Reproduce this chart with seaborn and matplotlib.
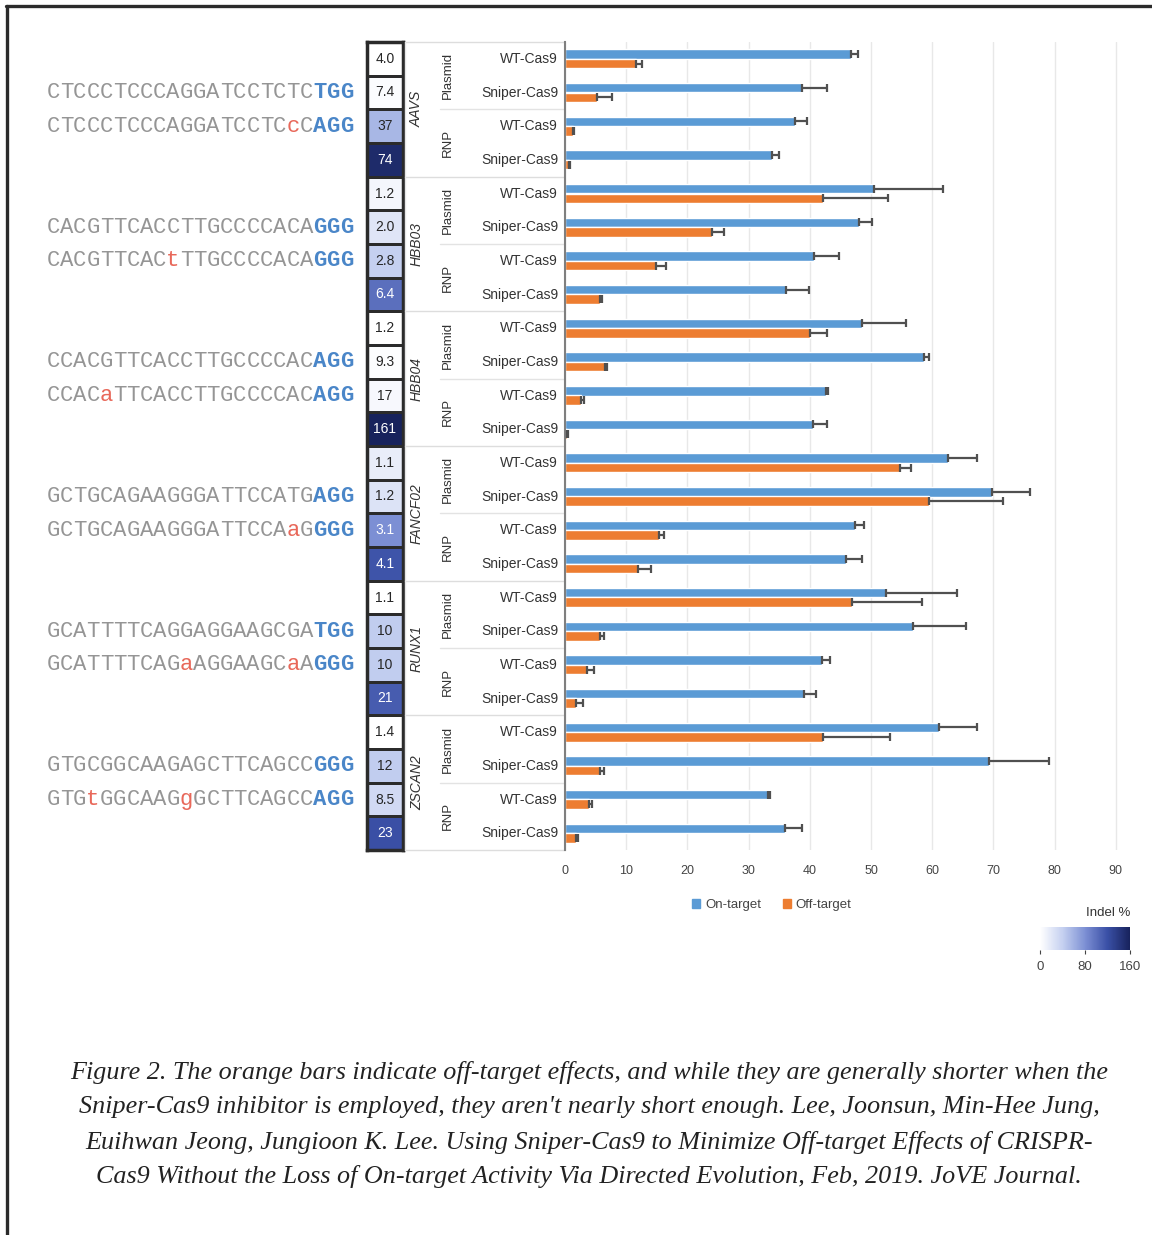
import numpy as np
import pandas as pd
import matplotlib
matplotlib.use("Agg")
import matplotlib.pyplot as plt
from matplotlib.colors import LinearSegmentedColormap
from matplotlib.lines import Line2D
from matplotlib.patches import Patch
import matplotlib.transforms as mtransforms
import seaborn as sns

W, H = 1152, 1235

genes = ["AAVS", "HBB03", "HBB04", "FANCF02", "RUNX1", "ZSCAN2"]
deliveries = ["Plasmid", "RNP"]
variants = ["WT-Cas9", "Sniper-Cas9"]

# indel % (gene > delivery > variant order)
on_target = [46.8, 38.8, 37.5, 33.9, 50.5, 48.0, 40.7, 36.1,
             48.5, 58.6, 42.6, 40.6, 62.6, 69.8, 47.4, 45.9,
             52.4, 56.8, 42.0, 39.0, 61.1, 69.3, 33.2, 35.9]
on_err = [1.1, 4.0, 2.0, 1.1, 11.3, 2.1, 4.1, 3.8,
          7.2, 0.9, 0.3, 2.2, 4.8, 6.1, 1.5, 2.7,
          11.7, 8.7, 1.3, 2.0, 6.3, 9.8, 0.3, 2.8]
off_target = [11.6, 5.3, 1.3, 0.6, 42.2, 24.0, 14.8, 5.8,
              40.0, 6.5, 2.6, 0.3, 54.7, 59.5, 15.4, 12.0,
              46.9, 5.7, 3.6, 1.8, 42.2, 5.7, 4.0, 1.8]
off_err = [0.9, 2.3, 0.2, 0.2, 10.6, 1.9, 1.7, 0.3,
           2.8, 0.3, 0.5, 0.2, 1.8, 12.1, 0.7, 2.0,
           11.5, 0.6, 1.1, 1.1, 10.9, 0.6, 0.4, 0.3]

# numbers printed in the heat column and the shade each cell shows (0-160 scale)
heat_labels = ["4.0", "7.4", "37", "74", "1.2", "2.0", "2.8", "6.4",
               "1.2", "9.3", "17", "161", "1.1", "1.2", "3.1", "4.1",
               "1.1", "10", "10", "21", "1.4", "12", "8.5", "23"]
heat_level = [0, 3, 56, 152, 8, 22, 40, 100,
              0, 2, 6, 160, 15, 24, 80, 117,
              0, 42, 42, 112, 0, 42, 32, 120]

# lowercase = mismatch, last three = PAM
seq_on = ["CTCCCTCCCAGGATCCTCTCTGG", "CACGTTCACCTTGCCCCACAGGG",
          "CCACGTTCACCTTGCCCCACAGG", "GCTGCAGAAGGGATTCCATGAGG",
          "GCATTTTCAGGAGGAAGCGATGG", "GTGCGGCAAGAGCTTCAGCCGGG"]
seq_off = ["CTCCCTCCCAGGATCCTCcCAGG", "CACGTTCACtTTGCCCCACAGGG",
           "CCACaTTCACCTTGCCCCACAGG", "GCTGCAGAAGGGATTCCAaGGGG",
           "GCATTTTCAGaAGGAAGCaAGGG", "GTGtGGCAAGgGCTTCAGCCAGG"]

caption = [
    "Figure 2. The orange bars indicate off-target effects, and while they are generally shorter when the",
    "Sniper-Cas9 inhibitor is employed, they aren't nearly short enough. Lee, Joonsun, Min-Hee Jung,",
    "Euihwan Jeong, Jungioon K. Lee. Using Sniper-Cas9 to Minimize Off-target Effects of CRISPR-",
    "Cas9 Without the Loss of On-target Activity Via Directed Evolution, Feb, 2019. JoVE Journal.",
]

BLUE = "#5b9bd5"
ORANGE = "#ed7d31"
TXT = "#333333"

sns.set_style("white")
plt.rcParams["font.family"] = ["Liberation Sans", "DejaVu Sans"]

fig = plt.figure(figsize=(W / 100, H / 100), dpi=100)


def px_axes(x0, y0, x1, y1):
    return fig.add_axes([x0 / W, 1 - y1 / H, (x1 - x0) / W, (y1 - y0) / H])


TOP, BOT = 42, 850
ax_heat = px_axes(367, TOP, 403, BOT)
ax_lab = px_axes(405, TOP, 565, BOT)
ax_bar = px_axes(565, TOP, 565 + 6.12 * 93, BOT)
cax = px_axes(1040, 927, 1130, 950)

# heat column
cmap = LinearSegmentedColormap.from_list(
    "indel", ["#ffffff", "#c5d0f0", "#7d90d4", "#3a50a6", "#17225c"])
sns.heatmap(np.array(heat_level).reshape(-1, 1),
            annot=np.array(heat_labels).reshape(-1, 1), fmt="",
            annot_kws={"fontsize": 10},
            cmap=cmap, vmin=0, vmax=160, linewidths=1.8, linecolor="#2b2b2b",
            cbar_ax=cax, cbar_kws={"orientation": "horizontal", "ticks": [0, 80, 160]},
            xticklabels=False, yticklabels=False, ax=ax_heat)
for s in ax_heat.spines.values():
    s.set_visible(True)
    s.set_linewidth(2.5)
    s.set_color("#2b2b2b")

cbar = ax_heat.collections[0].colorbar
cbar.outline.set_edgecolor("#999999")
cax.tick_params(labelsize=9.5, length=3, pad=5, colors="#444444")
fig.text(1130 / W, 1 - 913 / H, "Indel %", ha="right", va="center", fontsize=9.5, color=TXT)

# label column
ax_lab.set_xlim(405, 565)
ax_lab.set_ylim(24, 0)
ax_lab.axis("off")
for gi, g in enumerate(genes):
    ax_lab.text(417, gi * 4 + 2, g, rotation=90, style="italic", ha="center", va="center",
                fontsize=10, color=TXT)
    ax_lab.plot([405, 565], [gi * 4, gi * 4], color="#dddddd", lw=1, clip_on=False)
    for di, d in enumerate(deliveries):
        base = gi * 4 + di * 2
        ax_lab.text(448, base + 1, d, rotation=90, ha="center", va="center",
                    fontsize=9.5, color=TXT)
        if di == 1:
            ax_lab.plot([440, 565], [base, base], color="#e3e3e3", lw=1, clip_on=False)
        for vi, v in enumerate(variants):
            ax_lab.text(558, base + vi + 0.5, v, ha="right", va="center",
                        fontsize=10, color=TXT)
ax_lab.plot([405, 565], [24, 24], color="#dddddd", lw=1, clip_on=False)
ax_lab.plot([405, 405], [0, 24], color="#e6e6e6", lw=1, clip_on=False)

# bars
rows = [f"{g}|{d}|{v}" for g in genes for d in deliveries for v in variants]
df = pd.DataFrame({
    "row": rows * 2,
    "value": on_target + off_target,
    "target": ["On-target"] * len(rows) + ["Off-target"] * len(rows),
})
sns.barplot(data=df, y="row", x="value", hue="target", orient="h",
            palette=[BLUE, ORANGE], width=0.56, saturation=1, errorbar=None,
            legend=False, ax=ax_bar, zorder=2)
for cont, errs in zip(ax_bar.containers, [on_err, off_err]):
    ys = [p.get_y() + p.get_height() / 2 for p in cont]
    xs = [p.get_width() for p in cont]
    ax_bar.errorbar(xs, ys, xerr=[np.zeros(len(errs)), errs], fmt="none",
                    ecolor="#505050", elinewidth=1.6, capsize=3, capthick=1.6, zorder=3)

ax_bar.set_xlim(0, 93)
ax_bar.set_ylim(23.5, -0.5)
ax_bar.set_xticks(range(0, 91, 10))
ax_bar.set_yticks([])
ax_bar.set_xlabel("")
ax_bar.set_ylabel("")
ax_bar.xaxis.grid(True, color="#e8e8e8", lw=1, zorder=0)
ax_bar.set_axisbelow(True)
for side in ["top", "right", "bottom"]:
    ax_bar.spines[side].set_visible(False)
ax_bar.spines["left"].set_color("#7f7f7f")
ax_bar.spines["left"].set_linewidth(1.5)
ax_bar.tick_params(axis="x", length=0, pad=11, labelsize=9, colors="#444444")

fig.legend(handles=[Patch(color=BLUE), Patch(color=ORANGE)],
           labels=["On-target", "Off-target"], loc="center",
           bbox_to_anchor=(772 / W, 1 - 905 / H), ncol=2, frameon=False,
           fontsize=9.5, handlelength=0.6, handleheight=0.6,
           handletextpad=0.4, columnspacing=1.6, labelcolor="#444444")

# sequences, one glyph at a time on a fixed pitch so mismatches and PAM can be coloured
fs_seq = 16
adv = 0.6 * fs_seq * 100 / 72
seq_tr = mtransforms.blended_transform_factory(fig.transFigure, ax_heat.transData)
for gi in range(len(genes)):
    for k, seq in enumerate([seq_on[gi], seq_off[gi]]):
        y = gi * 4 + 1 + k + 0.5
        x0 = 353 - adv * (len(seq) - 0.5)
        for i, ch in enumerate(seq):
            if i >= len(seq) - 3:
                color, weight = "#4a86c8", "bold"
            elif ch.islower():
                color, weight = "#e8685a", "normal"
            else:
                color, weight = "#959595", "normal"
            fig.text((x0 + i * adv) / W, y, ch, transform=seq_tr, ha="center", va="center",
                     fontsize=fs_seq, family="Liberation Mono", color=color, weight=weight)

# caption
for i, line in enumerate(caption):
    fig.text(589 / W, 1 - (1072 + 35 * i) / H, line, ha="center", va="center",
             fontsize=18.8, family="Liberation Serif", style="italic", color="#222222")

# frame
fig.add_artist(Line2D([6 / W, 1], [1 - 6 / H, 1 - 6 / H], transform=fig.transFigure,
                      color="#2b2b2b", lw=2.4))
fig.add_artist(Line2D([7 / W, 7 / W], [1 - 6 / H, 0], transform=fig.transFigure,
                      color="#2b2b2b", lw=2.4))

fig.savefig("out.png", dpi=100)
